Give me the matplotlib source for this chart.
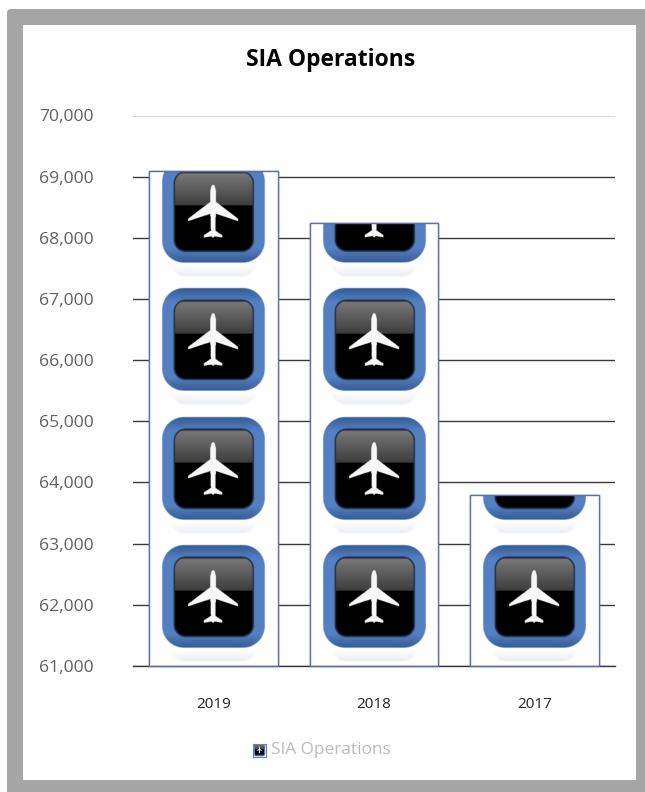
import matplotlib
matplotlib.use('Agg')
import matplotlib.pyplot as plt
from matplotlib.patches import FancyBboxPatch, Rectangle
from matplotlib.path import Path
from matplotlib.ticker import FuncFormatter
import numpy as np

years = ['2019', '2018', '2017']
operations = [69100, 68250, 63800]
y_ticks = [61000, 62000, 63000, 64000, 65000, 66000, 67000, 68000, 69000, 70000]
title = 'SIA Operations'

W, H = 645, 792
TILE_UNITS = 2100


def rounded_sdf(X, Y, x0, x1, y0, y1, r):
    cx, cy = (x0 + x1) / 2, (y0 + y1) / 2
    qx = np.abs(X - cx) - (x1 - x0) / 2 + r
    qy = np.abs(Y - cy) - (y1 - y0) / 2 + r
    return np.hypot(np.maximum(qx, 0), np.maximum(qy, 0)) + np.minimum(np.maximum(qx, qy), 0) - r


def blend(img, color, alpha):
    img[..., :3] = img[..., :3] * (1 - alpha[..., None]) + np.asarray(color) * alpha[..., None]


def make_tile(n=320):
    # plane icon on a blue rounded button, x and y run 0-1 with y up
    xs = (np.arange(n) + 0.5) / n
    X, Y = np.meshgrid(xs, xs[::-1])
    img = np.ones((n, n, 3))
    edge = 1.6 / n

    # faint reflection under the button
    d = rounded_sdf(X, Y, 0.16, 0.84, 0.03, 0.30, 0.12)
    refl = np.clip(-d / (3 * edge), 0, 1) * np.clip((0.125 - Y) / 0.09, 0, 1) * 0.16
    blend(img, (0.45, 0.55, 0.72), refl)

    # blue ring, darker along the top and bottom
    outer = rounded_sdf(X, Y, 0.10, 0.90, 0.14, 0.94, 0.17)
    t = np.clip(np.minimum(Y - 0.14, 0.94 - Y) / 0.11, 0, 1)
    side = np.clip(np.abs(X - 0.5) / 0.4, 0, 1) ** 3
    ring = np.empty_like(img)
    for c, (dark, light) in enumerate(zip((0.20, 0.36, 0.58), (0.33, 0.50, 0.76))):
        ring[..., c] = dark + (light - dark) * np.maximum(t, side * 0.8)
    a = np.clip(-outer / edge, 0, 1)[..., None]
    img = img * (1 - a) + ring * a

    # black face with the gloss over its upper half
    inner = rounded_sdf(X, Y, 0.20, 0.805, 0.233, 0.84, 0.085)
    blend(img, (0.14, 0.20, 0.29), np.clip((0.012 - inner) / edge, 0, 1))
    face = np.zeros_like(img)
    gloss = np.clip((Y - 0.585) / 0.255, 0, 1)
    level = np.where(Y > 0.585, 0.24 + 0.24 * gloss, 0.0)
    level = level * np.clip((0.84 - Y) / 0.012, 0.2, 1)
    face[..., 0] = face[..., 1] = face[..., 2] = level
    a = np.clip(-inner / edge, 0, 1)[..., None]
    img = img * (1 - a) + face * a

    half = [(0.0, 0.746), (0.012, 0.735), (0.021, 0.70), (0.021, 0.612), (0.193, 0.482),
            (0.193, 0.462), (0.021, 0.519), (0.017, 0.39), (0.073, 0.352), (0.073, 0.335),
            (0.012, 0.345), (0.0, 0.332)]
    verts = [(0.497 + x, y) for x, y in half] + [(0.497 - x, y) for x, y in half[::-1]]
    plane = Path(verts).contains_points(np.c_[X.ravel(), Y.ravel()]).reshape(X.shape)
    img[plane] = 0.97
    return np.clip(img, 0, 1)


tile = make_tile()

plt.rcParams['font.family'] = ['Open Sans', 'DejaVu Sans']
fig = plt.figure(figsize=(W / 100, H / 100), dpi=100, facecolor='white')

# grey frame behind the chart, in pixel coordinates
bg = fig.add_axes([0, 0, 1, 1])
bg.set_xlim(0, W)
bg.set_ylim(H, 0)
bg.axis('off')
bg.add_patch(FancyBboxPatch((7, 9), 650, 790, boxstyle='round,pad=0,rounding_size=4',
                            fc='#a6a6a6', ec='none'))
bg.add_patch(Rectangle((23, 25), 613, 755, fc='white', ec='none'))

ax = fig.add_axes([133 / W, 1 - 666 / H, 482 / W, 550.5 / H])
ax.patch.set_alpha(0)
ax.set_axisbelow(True)
ax.yaxis.grid(True, color='#3a3a3a', lw=1.0)
bars = ax.bar(range(len(years)), operations, width=0.8, bottom=0, color='white',
              edgecolor='#5f6fae', linewidth=1.0, zorder=2)

for bar, value in zip(bars, operations):
    x0, x1 = bar.get_x(), bar.get_x() + bar.get_width()
    base = y_ticks[0]
    while base < value:
        im = ax.imshow(tile, extent=(x0, x1, base, base + TILE_UNITS), aspect='auto',
                       zorder=2.5, interpolation='bilinear')
        im.set_clip_path(Rectangle((x0, y_ticks[0]), x1 - x0, value - y_ticks[0],
                                   transform=ax.transData))
        base += TILE_UNITS
    # outline again so the tiles do not cover it
    ax.add_patch(Rectangle((x0, y_ticks[0]), x1 - x0, value - y_ticks[0], fc='none',
                           ec='#5f6fae', lw=1.0, zorder=3, clip_on=False))

ax.set_xlim(-0.5, 2.5)
ax.set_ylim(y_ticks[0], y_ticks[-1])
ax.set_yticks(y_ticks)
ax.yaxis.set_major_formatter(FuncFormatter(lambda v, _: f'{int(v):,}'))
ax.set_xticks(range(len(years)))
ax.set_xticklabels(years)
ax.tick_params(axis='y', length=0, pad=28, labelsize=12.6, labelcolor='#606060')
ax.tick_params(axis='x', length=0, pad=22, labelsize=11, labelcolor='#222222')
for name in ['top', 'left', 'right']:
    ax.spines[name].set_visible(False)
ax.spines['bottom'].set_color('#3a3a3a')
ax.spines['bottom'].set_linewidth(1.0)

fig.text(330.5 / W, 1 - 60 / H, title, ha='center', va='center', fontsize=16.5,
         fontweight='bold', color='black')

# legend entry
key = fig.add_axes([253 / W, 1 - 757 / H, 13 / W, 13 / H])
key.imshow(tile[30:290, 20:300], aspect='auto', interpolation='bilinear')
key.set_xticks([])
key.set_yticks([])
for s in key.spines.values():
    s.set_color('#7080b8')
    s.set_linewidth(0.8)
fig.text(271 / W, 1 - 750.5 / H, title, ha='left', va='center', fontsize=12.4, color='#bcbcbc')

fig.savefig('out.png', dpi=100)
